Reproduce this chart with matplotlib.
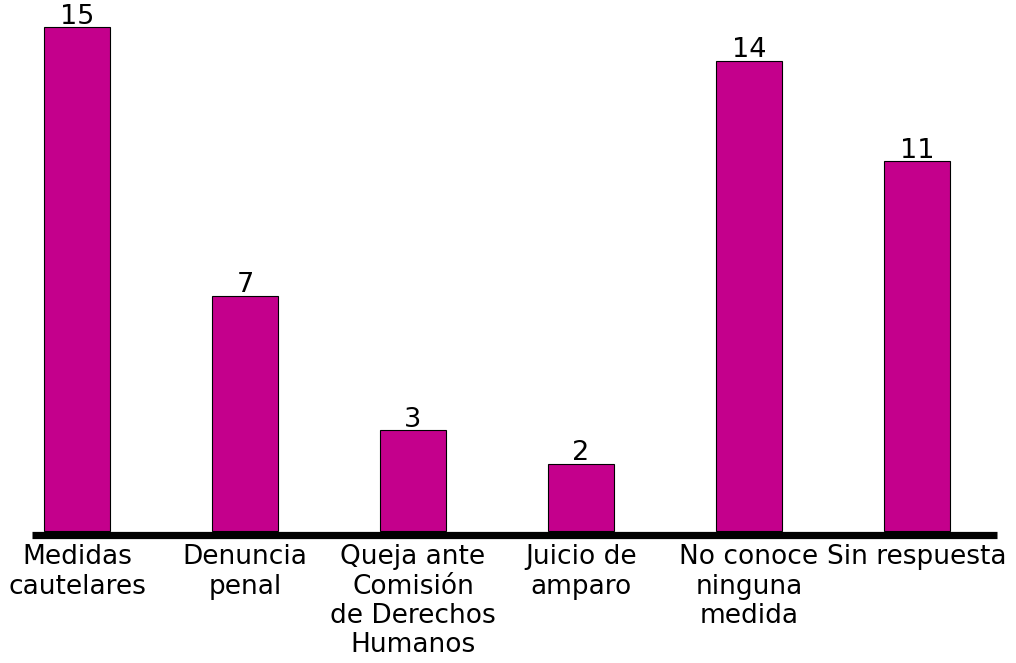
import matplotlib
matplotlib.use("Agg")
import matplotlib.pyplot as plt

categories = ["Medidas\ncautelares", "Denuncia\npenal", "Queja ante\nComisión\nde Derechos\nHumanos",
              "Juicio de\namparo", "No conoce\nninguna\nmedida", "Sin respuesta"]
values = [15, 7, 3, 2, 14, 11]

W, H = 1016, 663
fig = plt.figure(figsize=(W/100, H/100), dpi=100)
left_px, right_px = 32, 997
bottom_px, top_px = 534.5, 0
ax = fig.add_axes([left_px/W, 1-bottom_px/H, (right_px-left_px)/W, (bottom_px-top_px)/H])

x = list(range(len(categories)))
ax.bar(x, values, width=0.395, color="#C4008C", edgecolor="black", linewidth=0.8, zorder=2)
ppu = 33.6
for xi, v in zip(x, values):
    ax.text(xi, v + 3.5/ppu, str(v), ha="center", va="baseline", fontsize=19.5, color="black")

ax.set_xlim((left_px-77)/168, (right_px-77)/168)
ax.set_ylim(-3.5/ppu, (534.5-0)/ppu - 3.5/ppu)
ax.set_xticks(x)
ax.set_xticklabels(categories, fontsize=19, linespacing=1.17)
ax.tick_params(axis="x", length=0, pad=7)
ax.set_yticks([])
for s in ["top", "right", "left"]:
    ax.spines[s].set_visible(False)
ax.spines["bottom"].set_linewidth(5.2)
ax.spines["bottom"].set_capstyle("butt")
ax.spines["bottom"].set_zorder(3)

fig.savefig("out.png", dpi=100)
